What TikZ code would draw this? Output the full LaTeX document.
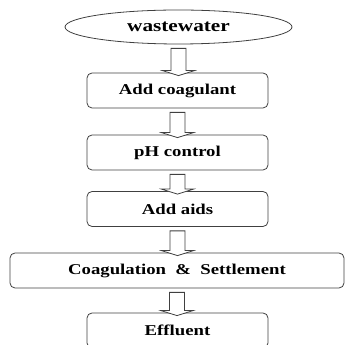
\documentclass[tikz,border=0pt]{standalone}
\usepackage{fontspec}
\setmainfont{Liberation Serif}
\newfontfamily\flowfont[FakeStretch=1.25]{Liberation Serif}
\usetikzlibrary{shapes.geometric,calc}
% hollow block arrow from the bottom of one node to the top of the next
\newcommand{\blockarrow}[2]{%
  \draw[hollow] let \p1=($(#1.south)+(0,-4)$), \p2=($(#2.north)+(0,-3)$) in
    (\x1-7.5pt,\y1) -- (\x1-7.5pt,\y2+5pt) -- (\x1-16pt,\y2+5pt) -- (\x1,\y2)
    -- (\x1+16pt,\y2+5pt) -- (\x1+7.5pt,\y2+5pt) -- (\x1+7.5pt,\y1) -- cycle;}

\begin{document}
\begin{tikzpicture}[x=1pt,y=1pt,font=\flowfont\bfseries\fontsize{15}{18}\selectfont]
  \tikzset{
    stage/.style={draw=black!75,line width=0.8pt,rounded corners=5pt,
                  minimum width=181pt,minimum height=35pt,inner sep=0pt},
    source/.style={ellipse,draw=black!75,line width=0.8pt,
                   minimum width=227pt,minimum height=34pt,inner sep=0pt,
                   font=\flowfont\bfseries\fontsize{17}{20}\selectfont},
    hollow/.style={draw=black!75,line width=0.8pt,fill=white},
  }
  \useasboundingbox (0,0) rectangle (345,345);
  % ---- stages ----
  \node[source] (waste) at (178.5,318) {wastewater};
  \node[stage] (coag) at (177.5,254.5) {Add coagulant};
  \node[stage] (ph) at (177.5,192.5) {pH control};
  \node[stage] (aids) at (177.5,136) {Add aids};
  \node[stage,minimum width=334pt] (settle) at (177,74.5)
       {Coagulation\ \ \&\ \ Settlement};
  \node[stage] (effl) at (177.5,14.5) {Effluent};
  % ---- arrows ----
  \blockarrow{waste}{coag}
  \blockarrow{coag}{ph}
  \blockarrow{ph}{aids}
  \blockarrow{aids}{settle}
  \blockarrow{settle}{effl}
\end{tikzpicture}
\end{document}
